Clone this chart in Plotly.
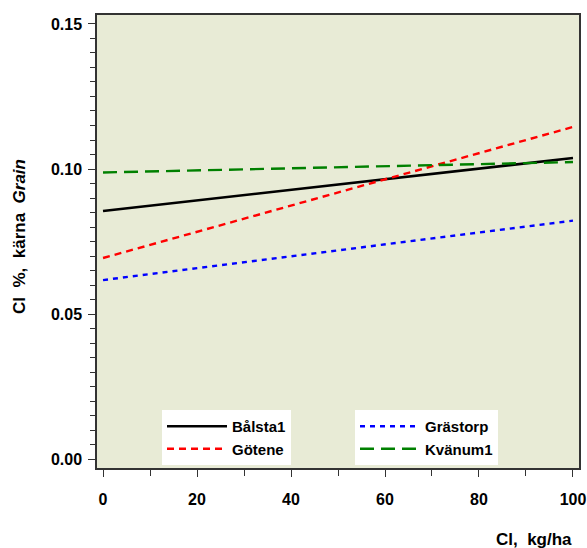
import plotly.graph_objects as go

x_vals = [0, 100]
names = ["Bålsta1", "Götene", "Grästorp", "Kvänum1"]
bal = [0.0855, 0.1038]
got = [0.0693, 0.1145]
gra = [0.0617, 0.0822]
kva = [0.0988, 0.1024]
y_ticks = [0.00, 0.05, 0.10, 0.15]
y_ticklabels = ["0.00", "0.05", "0.10", "0.15"]
x_ticks = [0, 20, 40, 60, 80, 100]

series = [bal, got, gra, kva]
colors = ["black", "red", "blue", "green"]
dashes = ["solid", "7px,5px", "5px,5px", "14px,7px"]
widths = [2.6, 2.4, 2.4, 2.4]
legends = ["legend", "legend", "legend2", "legend2"]

FONT = "Liberation Sans"
fig = go.Figure()
for n, s, c, d, w, lg in zip(names, series, colors, dashes, widths, legends):
    fig.add_trace(go.Scatter(x=x_vals, y=s, mode="lines", name=n, legend=lg,
                             line=dict(color=c, dash=d, width=w)))

PW, PH = 482, 453
leg_font = dict(family=FONT, size=15, color="black", weight="bold")
fig.update_layout(
    width=587, height=548,
    margin=dict(l=97, r=8, t=15, b=80, autoexpand=False),
    paper_bgcolor="white", plot_bgcolor="#E8EBD6",
    showlegend=True,
    legend=dict(orientation="v", x=(162 - 97) / PW, y=(468 - 410) / PH,
                xanchor="left", yanchor="top", bgcolor="white",
                entrywidth=120, entrywidthmode="pixels",
                font=leg_font, tracegroupgap=0, itemwidth=60, borderwidth=0),
    legend2=dict(orientation="v", x=(355 - 97) / PW, y=(468 - 410) / PH,
                 xanchor="left", yanchor="top", bgcolor="white",
                 entrywidth=95, entrywidthmode="pixels",
                 font=leg_font, tracegroupgap=0, itemwidth=60, borderwidth=0),
    font=dict(family=FONT, color="black"),
)
fig.update_xaxes(range=[-1.28, 101.28], tickvals=x_ticks, ticks="outside", ticklen=7,
                 tickwidth=1, tickcolor="#333", showgrid=False, zeroline=False,
                 showline=True, linecolor="#333", linewidth=1.5, mirror=True,
                 tickfont=dict(family=FONT, size=16, weight="bold", color="black"),
                 ticklabelstandoff=9,
                 minor=dict(dtick=10, tick0=0, ticks="outside", ticklen=6, tickcolor="#333", showgrid=False))
fig.update_yaxes(range=[-0.0031, 0.1531], tickvals=y_ticks, ticktext=y_ticklabels,
                 ticks="outside", ticklen=7, tickwidth=1, tickcolor="#333",
                 showgrid=False, zeroline=False,
                 showline=True, linecolor="#333", linewidth=1.5, mirror=True,
                 tickfont=dict(family=FONT, size=16, weight="bold", color="black"),
                 ticklabelstandoff=3,
                 minor=dict(dtick=0.005, tick0=0, ticks="outside", ticklen=5, tickcolor="#333", showgrid=False))

fig.add_annotation(text="Cl,  kg/ha", xref="paper", yref="paper",
                   x=(574 - 97) / PW, y=-(539 - 468) / PH, xanchor="right", yanchor="middle",
                   showarrow=False, font=dict(family=FONT, size=17, weight="bold", color="black"))
fig.add_annotation(text="Cl  %,  kärna  <i>Grain</i>", xref="paper", yref="paper",
                   x=-(97 - 20) / PW, y=(468 - 237) / PH, xanchor="center", yanchor="middle",
                   textangle=-90, showarrow=False,
                   font=dict(family=FONT, size=17, weight="bold", color="black"))

fig.write_html("out.html", config={"displayModeBar": False},
               post_script="document.body.style.margin='0';document.body.style.overflow='hidden';")
